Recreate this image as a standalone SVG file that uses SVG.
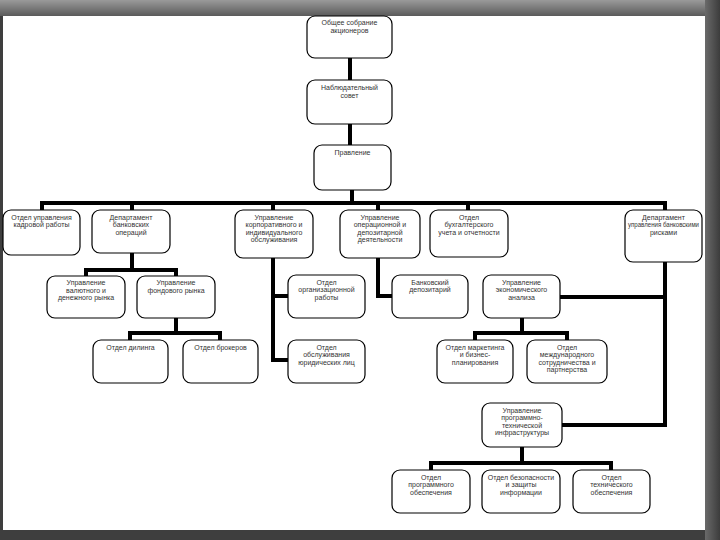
<svg xmlns="http://www.w3.org/2000/svg" width="720" height="540" viewBox="0 0 720 540">
<defs>
<linearGradient id="gTop" x1="0" y1="0" x2="0" y2="1">
<stop offset="0" stop-color="#9a9a9a"/>
<stop offset="0.5" stop-color="#7a7a7a"/>
<stop offset="1" stop-color="#5a5a5a"/>
</linearGradient>
<linearGradient id="gRight" x1="0" y1="0" x2="1" y2="0">
<stop offset="0" stop-color="#6a6a6a"/>
<stop offset="1" stop-color="#3c3c3c"/>
</linearGradient>
<style>
.b{fill:#fff;stroke:#000;stroke-width:1.2}
.t{font-family:"Liberation Sans",Arial,sans-serif;font-size:7px;fill:#333;text-anchor:middle}
.c{fill:none;stroke:#000;stroke-width:4;stroke-linejoin:miter;stroke-linecap:square}
</style>
</defs>
<rect x="0" y="0" width="720" height="540" fill="#3e3e3e"/>
<rect x="0" y="0" width="720" height="16" fill="url(#gTop)"/>
<rect x="705" y="0" width="15" height="540" fill="url(#gRight)"/>
<rect x="3" y="16" width="702" height="514" fill="#fff"/>

<g id="connectors">
<path class="c" d="M350 58 V80 M350 124 V145 M352 190 V203"/>
<path class="c" d="M42 210 V203 H665 V210 M132 203 V210 M273 203 V210 M378 203 V210 M468 203 V210"/>
<path class="c" d="M132 253 V270 M86 276 V270 H176 V276 M176 318 V333 M130 340 V333 H220 V340"/>
<path class="c" d="M273 258 V360 H288 M273 296 H288"/>
<path class="c" d="M378 258 V296 H392"/>
<path class="c" d="M665 262 V425 H562 M665 297 H560"/>
<path class="c" d="M522 318 V333 M475 340 V333 H567 V340"/>
<path class="c" d="M522 447 V463 M431 470 V463 H611 V470"/>
</g>

<g id="n1"><rect class="b" x="307" y="16" width="85" height="42" rx="8"/>
<text class="t" x="349.5" y="25">Общее собрание</text><text class="t" x="349.5" y="32.5">акционеров</text></g>
<g id="n2"><rect class="b" x="307" y="80" width="85" height="44" rx="8"/>
<text class="t" x="349.5" y="90">Наблюдательный</text><text class="t" x="349.5" y="97.5">совет</text></g>
<g id="n3"><rect class="b" x="314" y="145" width="77" height="45" rx="8"/>
<text class="t" x="352.5" y="155">Правление</text></g>

<g id="nA"><rect class="b" x="3" y="210" width="77" height="45" rx="8"/>
<text class="t" x="41.5" y="219.5">Отдел управления</text><text class="t" x="41.5" y="227">кадровой работы</text></g>
<g id="nB"><rect class="b" x="92" y="210" width="78" height="43" rx="8"/>
<text class="t" x="131" y="219.5">Департамент</text><text class="t" x="131" y="227">банковских</text><text class="t" x="131" y="234.5">операций</text></g>
<g id="nC"><rect class="b" x="235" y="210" width="78" height="48" rx="8"/>
<text class="t" x="274" y="219.5">Управление</text><text class="t" x="274" y="227">корпоративного и</text><text class="t" x="274" y="234.5">индивидуального</text><text class="t" x="274" y="242">обслуживания</text></g>
<g id="nD"><rect class="b" x="340" y="210" width="80" height="48" rx="8"/>
<text class="t" x="380" y="219.5">Управление</text><text class="t" x="380" y="227">операционной и</text><text class="t" x="380" y="234.5">депозитарной</text><text class="t" x="380" y="242">деятельности</text></g>
<g id="nE"><rect class="b" x="430" y="210" width="78" height="47" rx="8"/>
<text class="t" x="469" y="219.5">Отдел</text><text class="t" x="469" y="227">бухгалтерского</text><text class="t" x="469" y="234.5">учета и отчетности</text></g>
<g id="nF"><rect class="b" x="625" y="210" width="77" height="52" rx="8"/>
<text class="t" x="663.5" y="219.5">Департамент</text><text class="t" x="663.5" y="227" textLength="71" lengthAdjust="spacingAndGlyphs">управления банковскими</text><text class="t" x="663.5" y="234.5">рисками</text></g>

<g id="nG"><rect class="b" x="47" y="276" width="78" height="42" rx="8"/>
<text class="t" x="86" y="285">Управление</text><text class="t" x="86" y="292.5">валютного и</text><text class="t" x="86" y="300">денежного рынка</text></g>
<g id="nH"><rect class="b" x="137" y="276" width="78" height="42" rx="8"/>
<text class="t" x="176" y="285">Управление</text><text class="t" x="176" y="292.5">фондового рынка</text></g>
<g id="nI"><rect class="b" x="93" y="340" width="75" height="43" rx="8"/>
<text class="t" x="130.5" y="349.5">Отдел дилинга</text></g>
<g id="nJ"><rect class="b" x="183" y="340" width="75" height="43" rx="8"/>
<text class="t" x="220.5" y="349.5">Отдел брокеров</text></g>

<g id="nK"><rect class="b" x="288" y="275" width="77" height="43" rx="8"/>
<text class="t" x="326.5" y="284.5">Отдел</text><text class="t" x="326.5" y="292">организационной</text><text class="t" x="326.5" y="299.5">работы</text></g>
<g id="nL"><rect class="b" x="288" y="340" width="77" height="43" rx="8"/>
<text class="t" x="326.5" y="349.5">Отдел</text><text class="t" x="326.5" y="357">обслуживания</text><text class="t" x="326.5" y="364.5">юридических лиц</text></g>
<g id="nM"><rect class="b" x="392" y="275" width="76" height="43" rx="8"/>
<text class="t" x="430" y="284.5">Банковский</text><text class="t" x="430" y="292">депозитарий</text></g>

<g id="nN"><rect class="b" x="483" y="275" width="77" height="43" rx="8"/>
<text class="t" x="521.5" y="284.5">Управление</text><text class="t" x="521.5" y="292">экономического</text><text class="t" x="521.5" y="299.5">анализа</text></g>
<g id="nO"><rect class="b" x="437" y="340" width="76" height="43" rx="8"/>
<text class="t" x="475" y="349.5">Отдел маркетинга</text><text class="t" x="475" y="357">и бизнес-</text><text class="t" x="475" y="364.5">планирования</text></g>
<g id="nP"><rect class="b" x="527" y="340" width="80" height="43" rx="8"/>
<text class="t" x="567" y="349.5">Отдел</text><text class="t" x="567" y="357">международного</text><text class="t" x="567" y="364.5">сотрудничества и</text><text class="t" x="567" y="372">партнерства</text></g>

<g id="nQ"><rect class="b" x="482" y="403" width="80" height="44" rx="8"/>
<text class="t" x="522" y="412.5">Управление</text><text class="t" x="522" y="420">программно-</text><text class="t" x="522" y="427.5">технической</text><text class="t" x="522" y="435">инфраструктуры</text></g>
<g id="nR"><rect class="b" x="392" y="470" width="78" height="43" rx="8"/>
<text class="t" x="431" y="479.5">Отдел</text><text class="t" x="431" y="487">программного</text><text class="t" x="431" y="494.5">обеспечения</text></g>
<g id="nS"><rect class="b" x="482" y="470" width="78" height="43" rx="8"/>
<text class="t" x="521" y="479.5">Отдел безопасности</text><text class="t" x="521" y="487">и защиты</text><text class="t" x="521" y="494.5">информации</text></g>
<g id="nT"><rect class="b" x="573" y="470" width="77" height="43" rx="8"/>
<text class="t" x="611.5" y="479.5">Отдел</text><text class="t" x="611.5" y="487">технического</text><text class="t" x="611.5" y="494.5">обеспечения</text></g>
</svg>
